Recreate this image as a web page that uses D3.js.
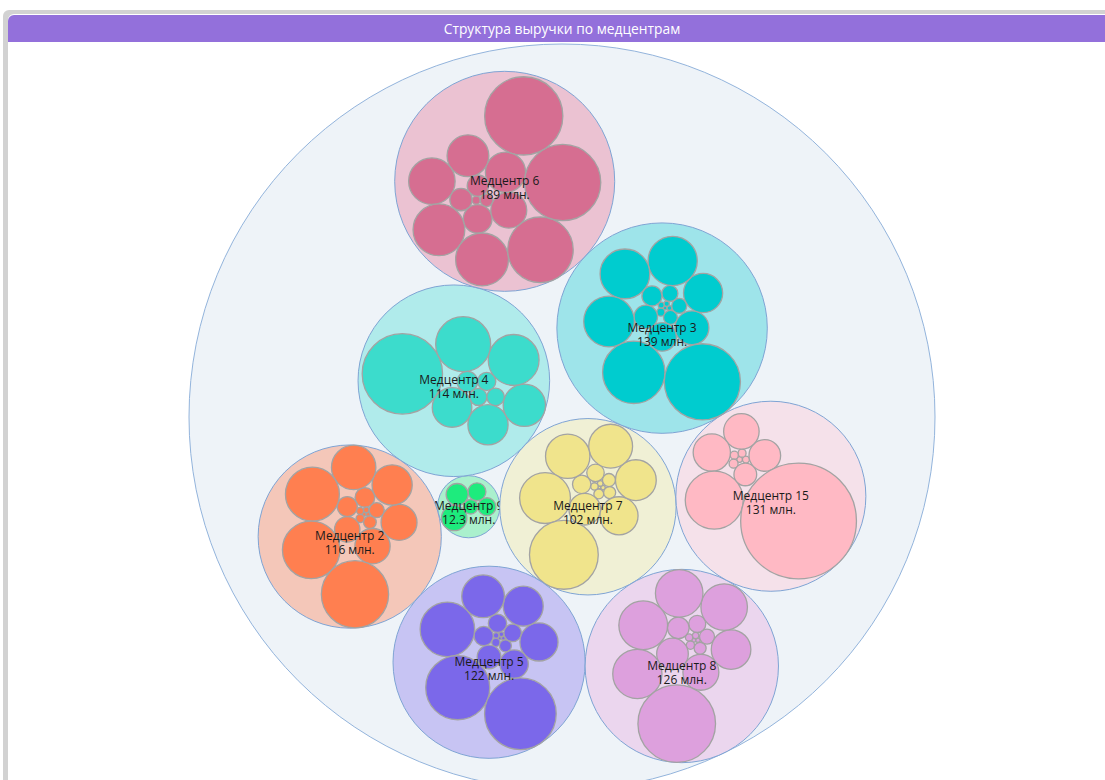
<!DOCTYPE html>
<html><head><meta charset="utf-8">
<script src="https://cdn.jsdelivr.net/npm/d3@7"></script>
<style>body{margin:0;background:#fff;} svg{display:block;font-family:"Open Sans",sans-serif;}</style>
</head><body><svg id="c" width="1105" height="780"></svg>
<script>
const title = "Структура выручки по медцентрам";
const unitLabel = "млн.";
const centerNames = ["Медцентр 6","Медцентр 3","Медцентр 4","Медцентр 2","Медцентр 7","Медцентр 15","Медцентр 5","Медцентр 8","Медцентр 9"];
const centerTotals = [189, 139, 114, 116, 102, 131, 122, 126, 12.3];
const m6  = [37.9, 35.9, 26.6, 17.3, 16.6, 13.4, 10.8, 10.0, 8.0, 5.1, 3.1, 2.8, 1.0, 0.4];
const m3  = [35.9, 24.1, 15.9, 15.3, 15.0, 9.5, 7.1, 5.0, 3.4, 2.5, 1.6, 1.4, 1.2, 0.4, 0.22, 0.18, 0.15, 0.09];
const m4  = [40.0, 18.7, 16.0, 11.1, 10.0, 9.7, 2.6, 1.9, 1.8, 2.04];
const m2  = [28.0, 20.5, 18.0, 12.2, 10.0, 8.0, 7.7, 4.0, 2.5, 2.4, 1.4, 1.0, 0.3, 0.19, 0.09, 0.42, 0.09];
const m7  = [29.3, 16.0, 12.2, 11.9, 10.3, 9.0, 6.2, 2.1, 1.9, 1.05, 0.9, 0.6, 0.2, 0.12, 0.05, 0.34];
const m15 = [83.0, 20.8, 8.6, 7.8, 6.2, 3.2, 0.5, 0.4, 0.4, 0.3, 0.2];
const m5  = [31.8, 25.4, 18.4, 11.3, 9.9, 9.0, 5.0, 3.5, 2.3, 2.1, 1.9, 0.9, 0.2, 0.15, 0.07, 0.42, 0.09];
const m8  = [37.3, 15.0, 14.7, 14.0, 13.4, 9.7, 8.0, 6.2, 2.9, 1.8, 1.4, 0.9, 0.25, 0.33, 0.12, 0.42, 0.09];
const m9  = [4.0, 3.0, 2.0, 2.0, 1.3];
const childValues = [m6, m3, m4, m2, m7, m15, m5, m8, m9];
const childColors = ["#d66e91","#00cccf","#3cdccc","#ff7f50","#f0e48c","#ffb9c4","#7b68ea","#dda0dd","#1eeb7d"];
const groupColors = ["#ebc2d2","#9ee4ea","#b0ebeb","#f4c7b9","#f0f0d5","#f5e1ea","#c7c4f3","#ebd6ee","#aaf0cd"];

const svg = d3.select("#c");
const W = 1105, H = 780;

// frame
svg.append("rect").attr("x",3).attr("y",10).attr("width",W+20).attr("height",H).attr("rx",6).attr("fill","#d2d2d2");
svg.append("rect").attr("x",8).attr("y",14).attr("width",W+20).attr("height",H).attr("rx",6).attr("fill","#ffffff");
svg.append("rect").attr("x",8).attr("y",15).attr("width",W+20).attr("height",27).attr("rx",6).attr("fill","#9370db");
svg.append("rect").attr("x",8).attr("y",28).attr("width",W+20).attr("height",14).attr("fill","#9370db");
svg.append("text").attr("x",562).attr("y",29).attr("dy","0.35em").attr("text-anchor","middle")
  .attr("fill","#ffffff").attr("font-size",13.8).text(title);

// ---- classic (d3 v3 style) front-chain circle packing, run on a d3.hierarchy ----
function place(a, b, c) {
  let db = a.r + c.r;
  const dx = b.x - a.x, dy = b.y - a.y;
  if (db && (dx || dy)) {
    let da = b.r + c.r;
    const dc = dx * dx + dy * dy;
    da *= da; db *= db;
    const x = .5 + (db - da) / (2 * dc);
    const y = Math.sqrt(Math.max(0, 2 * da * (db + dc) - (db -= dc) * db - da * da)) / (2 * dc);
    c.x = a.x + x * dx + y * dy;
    c.y = a.y + x * dy - y * dx;
  } else { c.x = a.x + db; c.y = a.y; }
}
function intersects(a, b) {
  const dx = b.x - a.x, dy = b.y - a.y, dr = a.r + b.r;
  return .999 * dr * dr > dx * dx + dy * dy;
}
function insert(a, b) { const c = a._next; a._next = b; b._prev = a; b._next = c; c._prev = b; }
function splice(a, b) { a._next = b; b._prev = a; }
function packSiblings(node) {
  const nodes = node.children;
  if (!nodes || !nodes.length) return;
  const n = nodes.length;
  let xMin = Infinity, xMax = -Infinity, yMin = Infinity, yMax = -Infinity;
  function bound(d) {
    xMin = Math.min(d.x - d.r, xMin); xMax = Math.max(d.x + d.r, xMax);
    yMin = Math.min(d.y - d.r, yMin); yMax = Math.max(d.y + d.r, yMax);
  }
  nodes.forEach(d => { d._next = d._prev = d; });
  let a = nodes[0], b, c, i, j, k;
  a.x = -a.r; a.y = 0; bound(a);
  if (n > 1) {
    b = nodes[1]; b.x = b.r; b.y = 0; bound(b);
    if (n > 2) {
      c = nodes[2]; place(a, b, c); bound(c);
      insert(a, c); a._prev = c; insert(c, b); b = a._next;
      for (i = 3; i < n; i++) {
        place(a, b, c = nodes[i]);
        let isect = 0, s1 = 1, s2 = 1;
        for (j = b._next; j !== b; j = j._next, s1++) {
          if (intersects(j, c)) { isect = 1; break; }
        }
        if (isect == 1) {
          for (k = a._prev; k !== j._prev; k = k._prev, s2++) {
            if (intersects(k, c)) break;
          }
        }
        if (isect) {
          if (s1 < s2 || (s1 == s2 && b.r < a.r)) splice(a, b = j);
          else splice(a = k, b);
          i--;
        } else { insert(a, c); b = c; bound(c); }
      }
    }
  }
  const cx = (xMin + xMax) / 2, cy = (yMin + yMax) / 2;
  let cr = 0;
  for (i = 0; i < n; i++) {
    c = nodes[i]; c.x -= cx; c.y -= cy;
    cr = Math.max(cr, c.r + Math.sqrt(c.x * c.x + c.y * c.y));
  }
  node.r = cr;
  nodes.forEach(d => { delete d._next; delete d._prev; });
}

const data = {children: centerNames.map((name, i) => ({
  name, total: centerTotals[i], gi: i,
  children: childValues[i].map(v => ({v, gi: i}))
}))};
const root = d3.hierarchy(data).sum(d => d.v || 0).sort((a, b) => a.value - b.value);
const rScale = d3.scaleSqrt().domain([0, 1]).range([0, 1]);
root.eachAfter(d => { d.r = rScale(d.value); });
root.x = 0; root.y = 0;
root.eachAfter(packSiblings);

const cx0 = 562, cy0 = 417, outerR = 373;
const kScale = outerR / root.r;
(function transform(node, x, y) {
  node.x = x += kScale * node.x;
  node.y = y += kScale * node.y;
  node.r *= kScale;
  if (node.children) node.children.forEach(ch => transform(ch, x, y));
})(root, cx0, cy0);

svg.append("circle").attr("cx", root.x).attr("cy", root.y).attr("r", root.r)
  .attr("fill", "#eef3f8").attr("stroke", "#93b4dc").attr("stroke-width", 1);

const groups = root.children;
const gSel = svg.append("g").selectAll("g").data(groups).join("g");
gSel.append("circle").attr("cx", d => d.x).attr("cy", d => d.y).attr("r", d => d.r)
  .attr("fill", d => groupColors[d.data.gi]).attr("stroke", "#7fa4d4").attr("stroke-width", 1);
gSel.each(function(d) {
  d3.select(this).selectAll("circle.kid").data(d.children).join("circle").attr("class", "kid")
    .attr("cx", k => k.x).attr("cy", k => k.y).attr("r", k => k.r)
    .attr("fill", childColors[d.data.gi]).attr("stroke", "#a3a3a3").attr("stroke-width", 1.3);
});
const fmt = v => (v >= 100 ? d3.format("d")(v) : d3.format(".1f")(v));
const lbl = gSel.append("text").attr("text-anchor", "middle").attr("font-size", 12).attr("fill", "#1a1a1a");
lbl.append("tspan").attr("x", d => d.x).attr("y", d => d.y - 0.5).attr("dy", "0.35em").text(d => d.data.name);
lbl.append("tspan").attr("x", d => d.x).attr("y", d => d.y + 13.5).attr("dy", "0.35em").text(d => fmt(d.data.total) + " " + unitLabel);
</script></body></html>
